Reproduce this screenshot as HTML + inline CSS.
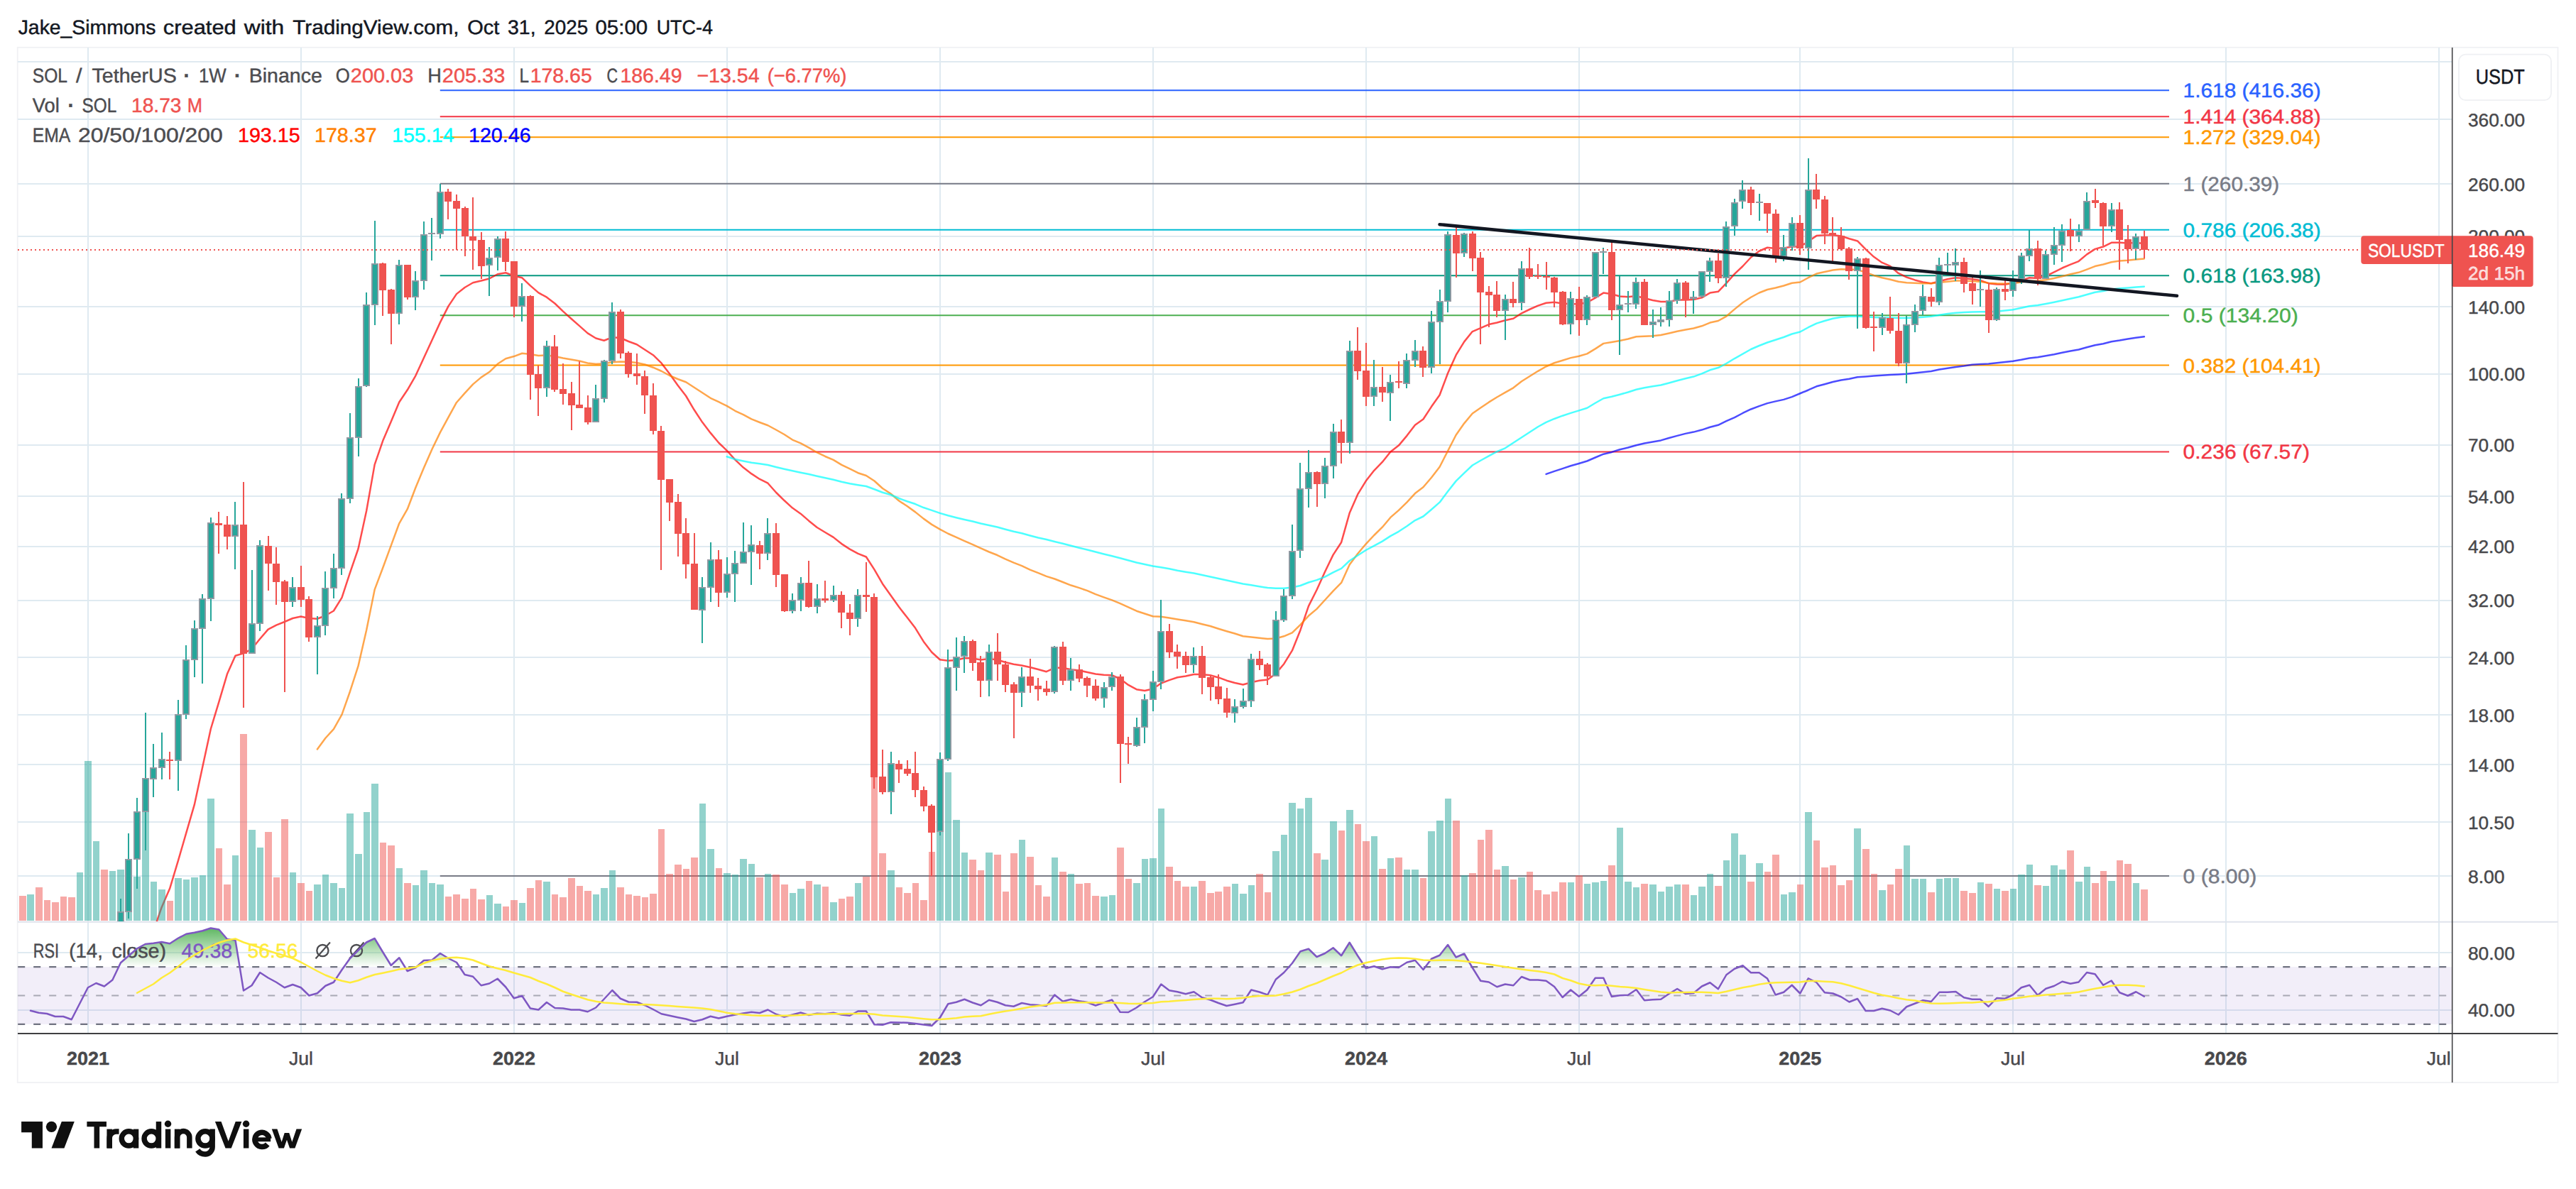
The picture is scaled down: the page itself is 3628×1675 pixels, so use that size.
<!DOCTYPE html><html><head><meta charset="utf-8"><title>chart</title><style>html,body{margin:0;padding:0;background:#fff}svg{display:block}</style></head><body><svg width="3628" height="1675" viewBox="0 0 3628 1675" font-family="Liberation Sans, sans-serif" text-rendering="geometricPrecision"><rect width="3628" height="1675" fill="#fff"/><rect x="24.7" y="66.8" width="3577.8" height="1458.2" fill="#fff" stroke="#f0f1f4" stroke-width="1.8"/><path d="M124 67V1455.5M424 67V1455.5M724 67V1455.5M1024 67V1455.5M1324 67V1455.5M1624 67V1455.5M1924 67V1455.5M2224 67V1455.5M2535 67V1455.5M2835 67V1455.5M3135 67V1455.5M3435 67V1455.5M25 87H3453M25 168H3453M25 259H3453M25 333H3453M25 432H3453M25 527H3453M25 627H3453M25 699H3453M25 770H3453M25 846H3453M25 926H3453M25 1007H3453M25 1077H3453M25 1158H3453M25 1234H3453M25 1342H3453M25 1423H3453" stroke="#dfeaf1" stroke-width="2" fill="none"/><path d="M25 1298.8H3602.5" stroke="#dfe3ec" stroke-width="2"/><rect x="25" y="1362.1" width="3428" height="80.8" fill="#7e57c2" fill-opacity="0.1"/><defs><clipPath id="cm"><rect x="25" y="67" width="3428" height="1231"/></clipPath><clipPath id="cr"><rect x="25" y="1299.5" width="3428" height="156.0"/></clipPath><linearGradient id="gg" gradientUnits="userSpaceOnUse" x1="0" y1="1301" x2="0" y2="1362.4"><stop offset="0" stop-color="#4caf50" stop-opacity="1"/><stop offset="1" stop-color="#4caf50" stop-opacity="0"/></linearGradient></defs><g clip-path="url(#cm)"><path d="M619.8 127.26H3055" stroke="#2962ff" stroke-width="2"/><path d="M619.8 164.22H3055" stroke="#f23645" stroke-width="2"/><path d="M619.8 193.17H3055" stroke="#ff9800" stroke-width="2"/><path d="M619.8 258.7H3055" stroke="#787b86" stroke-width="2"/><path d="M619.8 323.8H3055" stroke="#00bcd4" stroke-width="2"/><path d="M619.8 388.2H3055" stroke="#089981" stroke-width="2"/><path d="M619.8 444.32H3055" stroke="#4caf50" stroke-width="2"/><path d="M619.8 514.61H3055" stroke="#ff9800" stroke-width="2"/><path d="M619.8 636.47H3055" stroke="#f23645" stroke-width="2"/><path d="M619.8 1233.97H3055" stroke="#787b86" stroke-width="2"/><path d="M221 1297.5L227.65 1278.19L239.18 1251.62L250.72 1213.18L262.26 1173.44L273.8 1133.7L285.34 1080.1L296.87 1026.75L308.41 988.59L319.95 949.53L331.49 923.78L343.03 920.37L354.56 914.3L366.1 899.98L377.64 886.62L389.18 880.54L400.72 876.01L412.25 871L423.79 868.54L435.33 871.01L446.87 871.74L458.41 867.29L469.94 860.53L481.48 841.84L493.02 806.56L504.56 773L516.1 719.73L527.63 654.6L539.17 621.1L550.71 594.09L562.25 566.5L573.79 549.32L585.32 529.31L596.86 504.3L608.4 479.22L619.94 454.13L631.48 431.4L643.01 414.12L654.55 404.97L666.09 398.23L677.63 395.53L689.17 392.52L700.7 386.27L712.24 384.25L723.78 388.67L735.32 391.32L746.86 402.36L758.39 412.41L769.93 418.71L781.47 427.48L793.01 438.63L804.55 449.04L816.08 459.08L827.62 469.39L839.16 476.45L850.7 479.74L862.24 475.26L873.77 475.99L885.31 481.02L896.85 485.2L908.39 492.68L919.93 500.2L931.46 511.46L943 526.5L954.54 542.8L966.08 557.76L977.62 577.27L989.15 594.85L1000.69 609.92L1012.23 623.73L1023.77 634.78L1035.31 647.55L1046.84 658.6L1058.38 667.41L1069.92 674.95L1081.46 680.73L1093 693.75L1104.53 705.03L1116.07 715.55L1127.61 723.65L1139.15 733.66L1150.69 742.95L1162.22 749.98L1173.76 756.86L1185.3 766.09L1196.84 773.64L1208.38 779.93L1219.91 784.47L1231.45 802.42L1242.99 822.48L1254.53 838.77L1266.07 855.08L1277.6 869.81L1289.14 884.86L1300.68 903.64L1312.22 918.71L1323.76 929.28L1335.29 930.75L1346.83 930.01L1358.37 927.03L1369.91 927.5L1381.45 929.49L1392.98 928L1404.52 929.51L1416.06 932.94L1427.6 935.71L1439.14 937.48L1450.67 939.98L1462.21 942.99L1473.75 946.18L1485.29 940.85L1496.83 940.75L1508.36 943.22L1519.9 944.49L1531.44 946.99L1542.98 949.5L1554.52 950.75L1566.05 951.27L1577.59 956.32L1589.13 964.91L1600.67 971.21L1612.21 972.99L1623.74 970.5L1635.28 962.49L1646.82 958.07L1658.36 954.3L1669.9 952.52L1681.43 950.01L1692.97 950L1704.51 951.25L1716.05 954.44L1727.59 958.69L1739.12 961.96L1750.66 964.48L1762.2 961.26L1773.74 958.75L1785.28 957.48L1796.81 948.89L1808.35 935.18L1819.89 916.43L1831.43 887.68L1842.97 853.85L1854.5 830.98L1866.04 805.46L1877.58 781.6L1889.12 763.95L1900.66 722.84L1912.19 696.38L1923.73 677.53L1935.27 662.79L1946.81 650.95L1958.35 636.44L1969.88 627.59L1981.42 613.84L1992.96 598.8L2004.5 590.5L2016.04 572.83L2027.57 556.5L2039.11 525.8L2050.65 500.21L2062.19 481.35L2073.73 467.03L2085.26 462.1L2096.8 457.09L2108.34 454.53L2119.88 451.28L2131.42 448.77L2142.95 441.28L2154.49 435.75L2166.03 430.6L2177.57 426.81L2189.11 425.76L2200.64 427.48L2212.18 428.25L2223.72 428.25L2235.26 426.29L2246.8 419.62L2258.33 412.6L2269.87 414.23L2281.41 417.47L2292.95 418.25L2304.49 417L2316.02 419.94L2327.56 422.95L2339.1 424.97L2350.64 425L2362.18 422.52L2373.71 422.5L2385.25 422.01L2396.79 419.3L2408.33 412.6L2419.87 410.77L2431.4 398.85L2442.94 385.89L2454.48 375.02L2466.02 362.49L2477.56 353.73L2489.09 348.76L2500.63 349.99L2512.17 349.5L2523.71 347.51L2535.25 347.5L2546.78 339.98L2558.32 332.12L2569.86 331.26L2581.4 331.25L2592.94 332.49L2604.47 336.24L2616.01 339.43L2627.55 351.05L2639.09 361.85L2650.63 369.91L2662.16 374.96L2673.7 384.96L2685.24 390.5L2696.78 394.42L2708.32 397.45L2719.85 399.23L2731.39 396.28L2742.93 393.27L2754.47 391.26L2766.01 391.98L2777.54 393.23L2789.08 394.97L2800.62 399.2L2812.16 400.49L2823.7 400.75L2835.23 398.75L2846.77 395.07L2858.31 391.31L2869.85 391.99L2881.39 388.78L2892.92 383.29L2904.46 377.52L2916 372.61L2927.54 368.08L2939.08 358.4L2950.61 350.84L2962.15 347.53L2973.69 341.78L2985.23 341.75L2996.77 342.48L3008.3 342.01L3019.84 342.99" fill="none" stroke="#ff0000" stroke-opacity="0.7" stroke-width="2.5" stroke-linejoin="round" stroke-linecap="round" /><path d="M446.87 1055.5L458.41 1039.78L469.94 1027.09L481.48 1006.62L493.02 973.99L504.56 938.15L516.1 887.8L527.63 830.64L539.17 799.96L550.71 768.61L562.25 737.26L573.79 717.22L585.32 686.94L596.86 659.33L608.4 632.98L619.94 609.13L631.48 587.79L643.01 566.98L654.55 553.94L666.09 541.42L677.63 531.6L689.17 524.05L700.7 512.79L712.24 505.26L723.78 502.06L735.32 497.76L746.86 498.98L758.39 500.98L769.93 500.5L781.47 502L793.01 504.5L804.55 506.51L816.08 508.52L827.62 511.47L839.16 512.74L850.7 512.25L862.24 510.25L873.77 509.51L885.31 509.76L896.85 510.98L908.39 513.48L919.93 517.72L931.46 522.73L943 529L954.54 534.01L966.08 538.29L1000.69 560.8L1012.23 566.24L1023.77 571.89L1035.31 578.78L1046.84 584.18L1058.38 590.44L1069.92 594.97L1081.46 599.23L1093 605.5L1104.53 612.02L1116.07 619.53L1127.61 624.44L1139.15 630.69L1150.69 637.46L1162.22 642.99L1173.76 647.9L1185.3 654.88L1196.84 660.42L1208.38 666.19L1219.91 669.97L1231.45 677.47L1242.99 687.99L1254.53 695.52L1266.07 705.54L1277.6 713.07L1289.14 721.36L1300.68 730.63L1312.22 738.88L1323.76 745.61L1335.29 751.77L1346.83 756.79L1358.37 762.05L1369.91 767.07L1381.45 772.47L1392.98 777.49L1404.52 782.01L1416.06 787.53L1427.6 792.54L1439.14 797.07L1450.67 802.57L1462.21 807.09L1473.75 811.83L1485.29 815.51L1496.83 820.03L1508.36 824.54L1519.9 828.15L1531.44 832.16L1542.98 837.16L1554.52 841.35L1566.05 845.37L1577.59 850.13L1589.13 855.44L1600.67 860.71L1612.21 864.49L1623.74 868.25L1635.28 868.75L1646.82 870.47L1658.36 872.48L1669.9 874.23L1681.43 876.24L1692.97 879.24L1704.51 882L1716.05 885.69L1727.59 889.2L1739.12 892.46L1750.66 896.22L1762.2 897.49L1773.74 898.75L1785.28 900L1796.81 899.51L1808.35 896.29L1819.89 891.3L1831.43 880.07L1842.97 867.54L1854.5 857.91L1866.04 845.23L1877.58 832.68L1889.12 820.9L1900.66 795.56L1912.19 780.07L1923.73 766.27L1935.27 753.99L1946.81 742.69L1958.35 728.93L1969.88 718.85L1981.42 707.58L1992.96 695.04L2004.5 686.25L2016.04 672.75L2027.57 657.73L2039.11 635.27L2050.65 612.7L2062.19 596.34L2073.73 582.52L2085.26 574.46L2096.8 566.68L2108.34 559.53L2119.88 552.94L2131.42 546.3L2142.95 537.29L2154.49 530.01L2166.03 522.81L2177.57 516.28L2189.11 511.26L2200.64 507.74L2212.18 504.12L2223.72 501.81L2235.26 498.33L2246.8 491.37L2258.33 483.86L2269.87 482.02L2281.41 480.02L2292.95 477.51L2304.49 474.25L2316.02 473.76L2327.56 473.26L2339.1 472.02L2350.64 469.52L2362.18 466.77L2373.71 464.51L2385.25 462.54L2396.79 459.31L2408.33 454.57L2419.87 452.03L2431.4 445.55L2442.94 435.63L2454.48 426.26L2466.02 418.74L2477.56 412.48L2489.09 407.98L2500.63 405.53L2512.17 402.52L2523.71 398.76L2535.25 397.5L2546.78 391.23L2558.32 385.59L2569.86 383.03L2581.4 380.52L2592.94 379.26L2604.47 379.5L2616.01 379.99L2627.55 383.68L2639.09 387.94L2650.63 391.21L2662.16 393.73L2673.7 396.74L2685.24 398.25L2696.78 398.74L2708.32 399.24L2719.85 399.25L2731.39 398.01L2742.93 396.76L2754.47 395.5L2766.01 395.5L2777.54 396.24L2789.08 396.74L2800.62 398.73L2812.16 399.25L2823.7 399.5L2835.23 399.25L2846.77 397.53L2858.31 395.78L2869.85 395.5L2881.39 394.26L2892.92 392.01L2904.46 389.26L2916 386.31L2927.54 383.8L2939.08 379.56L2950.61 375.05L2962.15 372.52L2973.69 369.27L2985.23 367.54L2996.77 366.77L3008.3 365.52L3019.84 364.51" fill="none" stroke="#ff8000" stroke-opacity="0.7" stroke-width="2.5" stroke-linejoin="round" stroke-linecap="round" /><path d="M1023.77 643.25L1035.31 647.01L1046.84 649.47L1058.38 651.73L1069.92 653.24L1081.46 654.99L1093 658L1104.53 660.76L1116.07 663.27L1127.61 665.72L1139.15 667.98L1150.69 670.73L1162.22 673.24L1173.76 675.7L1185.3 678.7L1196.84 681.21L1208.38 683.23L1219.91 684.99L1231.45 689.23L1242.99 693.75L1254.53 697.01L1266.07 702.02L1277.6 706.28L1289.14 710.06L1300.68 715.06L1312.22 718.83L1323.76 722.91L1335.29 726.26L1346.83 729.27L1358.37 732.03L1369.91 734.54L1381.45 737.49L1392.98 740L1404.52 742.51L1416.06 745.77L1427.6 748.77L1439.14 751.29L1450.67 754.55L1462.21 757.55L1473.75 760.06L1485.29 763.01L1496.83 765.77L1508.36 768.78L1519.9 771.79L1531.44 774.55L1542.98 777.56L1554.52 780.56L1566.05 783.33L1577.59 786.33L1600.67 792.48L1612.21 794.99L1623.74 797.5L1635.28 799.26L1646.82 801.22L1658.36 803.72L1669.9 805.73L1681.43 807.49L1692.97 809.99L1704.51 812.5L1716.05 814.96L1727.59 817.46L1739.12 819.97L1750.66 822.48L1762.2 824.24L1773.74 826.25L1785.28 828L1796.81 828.74L1808.35 828.75L1819.89 827.51L1831.43 825.02L1842.97 820.51L1854.5 817.14L1866.04 812.58L1877.58 806.34L1889.12 800.91L1900.66 790L1912.19 782.54L1923.73 775.01L1935.27 768.87L1946.81 762.6L1958.35 755.1L1969.88 748.81L1981.42 741.3L1992.96 733.03L2004.5 727.5L2016.04 717.68L2027.57 707.65L2039.11 692.19L2050.65 677.63L2062.19 666.31L2073.73 655.52L2085.26 648.74L2096.8 642.47L2108.34 636.21L2119.88 631.3L2131.42 623.8L2142.95 616.28L2154.49 608.76L2166.03 601.23L2177.57 594.97L2189.11 589.96L2200.64 585.69L2212.18 581.85L2223.72 578.35L2235.26 574.71L2246.8 567.73L2258.33 561.26L2269.87 558.78L2281.41 555.77L2292.95 552.51L2304.49 548.75L2316.02 546.3L2327.56 544.28L2339.1 542.52L2350.64 539.53L2362.18 536.27L2373.71 533.26L2385.25 530.56L2396.79 526.33L2408.33 521.32L2419.87 518.04L2431.4 512.05L2442.94 505.04L2466.02 491.99L2477.56 486.98L2489.09 482.47L2500.63 478.79L2512.17 475.03L2523.71 470.52L2535.25 467.5L2546.78 461.23L2558.32 455.59L2569.86 452.04L2581.4 448.78L2592.94 446.76L2604.47 445.75L2616.01 445.51L2627.55 446.24L2639.09 446.99L2650.63 447.49L2662.16 447.5L2673.7 448L2685.24 448L2696.78 447.51L2708.32 446.76L2719.85 445.76L2731.39 443.77L2742.93 442.01L2754.47 440.75L2766.01 440.02L2777.54 439.51L2789.08 439.25L2800.62 439.25L2812.16 438.75L2823.7 437.51L2835.23 436.25L2846.77 433.8L2858.31 431.29L2869.85 430.02L2881.39 428.02L2892.92 425.76L2904.46 423.26L2916 420.8L2927.54 418.3L2939.08 415.05L2950.61 411.79L2962.15 410.01L2973.69 407.51L2985.23 406.28L2996.77 405.52L3008.3 404.52L3019.84 403.76" fill="none" stroke="#00ffff" stroke-opacity="0.7" stroke-width="2.5" stroke-linejoin="round" stroke-linecap="round" /><path d="M2177.57 667.9L2189.11 663.87L2200.64 660.09L2212.18 656.31L2223.72 652.96L2235.26 649.48L2246.8 644.51L2258.33 639.69L2269.87 636.92L2281.41 633.29L2292.95 630.55L2304.49 627.23L2316.02 624.5L2327.56 622.51L2339.1 620.41L2350.64 616.93L2362.18 613.9L2373.71 610.87L2385.25 608.59L2396.79 605.58L2408.33 601.81L2419.87 598.77L2431.4 593.22L2442.94 588.13L2454.48 581.98L2466.02 576.48L2477.56 572.15L2489.09 568.14L2500.63 565.4L2512.17 562.89L2523.71 559.17L2535.25 554.25L2546.78 549.48L2558.32 544.33L2569.86 541.29L2581.4 538.03L2592.94 535.51L2604.47 533.75L2616.01 531.3L2627.55 530.51L2639.09 529.51L2650.63 528.76L2662.16 528.01L2673.7 527.5L2685.24 526.75L2696.78 525.52L2708.32 524.27L2719.85 523.02L2731.39 520.52L2742.93 518.76L2754.47 517L2766.01 515.53L2777.54 513.78L2789.08 513.01L2800.62 512.51L2812.16 511.26L2823.7 510.01L2835.23 508.75L2846.77 506.79L2858.31 504.54L2869.85 503.27L2881.39 501.27L2892.92 499.26L2904.46 496.76L2916 494.55L2927.54 492.54L2939.08 489.3L2950.61 486.29L2962.15 484.27L2973.69 481.27L2985.23 479.54L2996.77 477.54L3008.3 475.78L3019.84 474.27" fill="none" stroke="#0000ff" stroke-opacity="0.7" stroke-width="2.5" stroke-linejoin="round" stroke-linecap="round" /><path d="M38 1260H48V1297H38zM108 1229H117V1297H108zM119 1072H129V1297H119zM131 1185H140V1297H131zM154 1227H163V1297H154zM165 1225H175V1297H165zM177 1226H186V1297H177zM188 1235H198V1297H188zM200 1128H210V1297H200zM212 1242H221V1297H212zM223 1253H233V1297H223zM246 1237H256V1297H246zM258 1239H267V1297H258zM269 1236H279V1297H269zM281 1233H290V1297H281zM292 1125H302V1297H292zM327 1205H336V1297H327zM350 1169H360V1297H350zM362 1194H371V1297H362zM408 1229H417V1297H408zM442 1246H452V1297H442zM454 1232H463V1297H454zM465 1244H475V1297H465zM477 1251H486V1297H477zM488 1146H498V1297H488zM500 1203H510V1297H500zM512 1144H521V1297H512zM523 1104H533V1297H523zM558 1223H567V1297H558zM581 1247H590V1297H581zM592 1226H602V1297H592zM604 1244H613V1297H604zM615 1246H625V1297H615zM685 1261H694V1297H685zM696 1273H706V1297H696zM731 1272H740V1297H731zM765 1242H775V1297H765zM835 1260H844V1297H835zM846 1251H856V1297H846zM858 1226H867V1297H858zM985 1132H994V1297H985zM996 1196H1006V1297H996zM1019 1230H1029V1297H1019zM1031 1232H1040V1297H1031zM1042 1210H1052V1297H1042zM1054 1217H1063V1297H1054zM1077 1231H1086V1297H1077zM1112 1258H1121V1297H1112zM1123 1252H1133V1297H1123zM1146 1246H1156V1297H1146zM1169 1271H1179V1297H1169zM1204 1244H1213V1297H1204zM1250 1226H1260V1297H1250zM1319 1128H1329V1297H1319zM1331 1088H1340V1297H1331zM1342 1155H1352V1297H1342zM1354 1201H1363V1297H1354zM1388 1201H1398V1297H1388zM1435 1183H1444V1297H1435zM1481 1208H1490V1297H1481zM1504 1231H1513V1297H1504zM1550 1263H1560V1297H1550zM1562 1261H1571V1297H1562zM1596 1244H1606V1297H1596zM1608 1210H1617V1297H1608zM1619 1209H1629V1297H1619zM1631 1139H1640V1297H1631zM1677 1249H1686V1297H1677zM1735 1245H1744V1297H1735zM1746 1259H1756V1297H1746zM1758 1247H1767V1297H1758zM1792 1199H1802V1297H1792zM1804 1176H1813V1297H1804zM1815 1131H1825V1297H1815zM1827 1139H1836V1297H1827zM1838 1124H1848V1297H1838zM1861 1211H1871V1297H1861zM1873 1157H1883V1297H1873zM1896 1141H1906V1297H1896zM1931 1178H1940V1297H1931zM1954 1209H1963V1297H1954zM1977 1225H1986V1297H1977zM1988 1225H1998V1297H1988zM2011 1171H2021V1297H2011zM2023 1156H2033V1297H2023zM2035 1125H2044V1297H2035zM2058 1233H2067V1297H2058zM2115 1220H2125V1297H2115zM2138 1236H2148V1297H2138zM2208 1243H2217V1297H2208zM2231 1245H2240V1297H2231zM2242 1243H2252V1297H2242zM2254 1241H2263V1297H2254zM2277 1166H2286V1297H2277zM2288 1242H2298V1297H2288zM2300 1250H2309V1297H2300zM2323 1246H2333V1297H2323zM2335 1256H2344V1297H2335zM2346 1249H2356V1297H2346zM2358 1246H2367V1297H2358zM2381 1261H2390V1297H2381zM2392 1249H2402V1297H2392zM2404 1231H2413V1297H2404zM2427 1212H2436V1297H2427zM2438 1174H2448V1297H2438zM2450 1204H2459V1297H2450zM2473 1216H2483V1297H2473zM2508 1260H2517V1297H2508zM2519 1257H2529V1297H2519zM2542 1144H2552V1297H2542zM2611 1167H2621V1297H2611zM2646 1254H2656V1297H2646zM2681 1191H2690V1297H2681zM2692 1238H2702V1297H2692zM2704 1238H2713V1297H2704zM2727 1238H2736V1297H2727zM2738 1237H2748V1297H2738zM2750 1237H2759V1297H2750zM2785 1243H2794V1297H2785zM2808 1252H2817V1297H2808zM2831 1252H2840V1297H2831zM2842 1232H2852V1297H2842zM2854 1218H2863V1297H2854zM2877 1248H2886V1297H2877zM2888 1219H2898V1297H2888zM2900 1225H2909V1297H2900zM2923 1242H2933V1297H2923zM2935 1221H2944V1297H2935zM2969 1241H2979V1297H2969zM3004 1244H3013V1297H3004z" fill="#26a69a" fill-opacity="0.5"/><path d="M27 1262H37V1297H27zM50 1250H60V1297H50zM62 1268H71V1297H62zM73 1271H83V1297H73zM85 1263H94V1297H85zM96 1264H106V1297H96zM142 1225H152V1297H142zM235 1269H244V1297H235zM304 1195H313V1297H304zM315 1246H325V1297H315zM338 1034H348V1297H338zM373 1172H383V1297H373zM385 1236H394V1297H385zM396 1154H406V1297H396zM419 1244H429V1297H419zM431 1255H440V1297H431zM535 1187H544V1297H535zM546 1191H556V1297H546zM569 1244H579V1297H569zM627 1263H636V1297H627zM638 1260H648V1297H638zM650 1266H660V1297H650zM662 1252H671V1297H662zM673 1267H683V1297H673zM708 1277H717V1297H708zM719 1268H729V1297H719zM742 1251H752V1297H742zM754 1240H763V1297H754zM777 1260H786V1297H777zM788 1264H798V1297H788zM800 1237H810V1297H800zM812 1248H821V1297H812zM823 1255H833V1297H823zM869 1250H879V1297H869zM881 1260H890V1297H881zM892 1262H902V1297H892zM904 1264H913V1297H904zM915 1259H925V1297H915zM927 1168H936V1297H927zM938 1231H948V1297H938zM950 1218H960V1297H950zM962 1224H971V1297H962zM973 1208H983V1297H973zM1008 1223H1017V1297H1008zM1065 1236H1075V1297H1065zM1088 1232H1098V1297H1088zM1100 1246H1110V1297H1100zM1135 1241H1144V1297H1135zM1158 1249H1167V1297H1158zM1181 1266H1190V1297H1181zM1192 1263H1202V1297H1192zM1215 1235H1225V1297H1215zM1227 1000H1236V1297H1227zM1238 1202H1248V1297H1238zM1262 1250H1271V1297H1262zM1273 1258H1283V1297H1273zM1285 1244H1294V1297H1285zM1296 1268H1306V1297H1296zM1308 1200H1317V1297H1308zM1365 1211H1375V1297H1365zM1377 1226H1386V1297H1377zM1400 1204H1410V1297H1400zM1412 1256H1421V1297H1412zM1423 1202H1433V1297H1423zM1446 1207H1456V1297H1446zM1458 1247H1467V1297H1458zM1469 1263H1479V1297H1469zM1492 1228H1502V1297H1492zM1515 1245H1525V1297H1515zM1527 1244H1536V1297H1527zM1538 1262H1548V1297H1538zM1573 1194H1583V1297H1573zM1585 1238H1594V1297H1585zM1642 1221H1652V1297H1642zM1654 1241H1663V1297H1654zM1665 1249H1675V1297H1665zM1688 1241H1698V1297H1688zM1700 1258H1710V1297H1700zM1711 1256H1721V1297H1711zM1723 1249H1733V1297H1723zM1769 1231H1779V1297H1769zM1781 1257H1790V1297H1781zM1850 1202H1860V1297H1850zM1885 1170H1894V1297H1885zM1908 1161H1917V1297H1908zM1919 1185H1929V1297H1919zM1942 1224H1952V1297H1942zM1965 1208H1975V1297H1965zM2000 1237H2009V1297H2000zM2046 1156H2056V1297H2046zM2069 1230H2079V1297H2069zM2081 1183H2090V1297H2081zM2092 1169H2102V1297H2092zM2104 1225H2113V1297H2104zM2127 1239H2136V1297H2127zM2150 1228H2159V1297H2150zM2161 1254H2171V1297H2161zM2173 1260H2183V1297H2173zM2185 1256H2194V1297H2185zM2196 1243H2206V1297H2196zM2219 1233H2229V1297H2219zM2265 1219H2275V1297H2265zM2311 1245H2321V1297H2311zM2369 1246H2379V1297H2369zM2415 1248H2425V1297H2415zM2461 1242H2471V1297H2461zM2485 1228H2494V1297H2485zM2496 1204H2506V1297H2496zM2531 1246H2540V1297H2531zM2554 1184H2563V1297H2554zM2565 1222H2575V1297H2565zM2577 1219H2586V1297H2577zM2588 1247H2598V1297H2588zM2600 1240H2609V1297H2600zM2623 1196H2633V1297H2623zM2635 1231H2644V1297H2635zM2658 1246H2667V1297H2658zM2669 1224H2679V1297H2669zM2715 1257H2725V1297H2715zM2761 1255H2771V1297H2761zM2773 1258H2783V1297H2773zM2796 1245H2806V1297H2796zM2819 1255H2829V1297H2819zM2865 1247H2875V1297H2865zM2911 1198H2921V1297H2911zM2946 1244H2956V1297H2946zM2958 1227H2967V1297H2958zM2981 1212H2990V1297H2981zM2992 1217H3002V1297H2992zM3015 1253H3025V1297H3015z" fill="#ef5350" fill-opacity="0.5"/><path d="M170 1266V1320M181 1174V1294M193 1124V1252M205 1004V1198M216 1048V1123M228 1032V1098M251 986V1114M262 909V1013M274 874V954M285 837V963M297 729V875M331 707V802M355 803V920M366 761V889M412 813V855M447 868V950M458 805V895M470 780V843M481 695V810M493 582V709M505 533V643M516 412V545M528 311V458M562 366V457M585 382V437M597 312V408M608 307V367M620 259V336M689 348V417M701 333V381M735 399V453M770 480V559M839 542V595M851 507V567M862 426V513M989 813V906M1001 764V848M1024 785V842M1035 776V848M1047 736V794M1058 740V824M1081 730V789M1116 836V864M1128 813V861M1151 823V864M1174 825V848M1208 830V883M1255 1059V1147M1324 1060V1177M1335 915V1072M1347 898V973M1358 896V948M1393 908V981M1439 940V996M1485 910V977M1508 927V973M1555 961V997M1566 947V973M1601 1011V1052M1612 978V1047M1624 945V1002M1635 845V971M1681 912V948M1739 985V1018M1751 970V998M1762 921V996M1797 861V953M1808 830V876M1820 739V844M1831 652V786M1843 634V715M1866 645V702M1878 597V674M1901 480V639M1935 507V572M1958 528V593M1981 498V547M1993 479V517M2016 438V526M2028 408V513M2039 326V440M2062 328V362M2120 415V479M2143 368V437M2212 411V471M2235 416V458M2247 355V419M2258 349V386M2281 389V500M2293 410V440M2304 391V435M2328 436V476M2339 433V460M2351 410V460M2362 393V428M2385 410V442M2397 383V419M2408 363V397M2431 312V404M2443 280V332M2454 254V294M2478 273V311M2512 331V368M2524 306V353M2547 223V380M2616 362V463M2651 441V472M2685 445V540M2697 429V468M2708 401V444M2731 363V430M2743 356V388M2754 350V396M2789 381V432M2812 405V452M2835 381V418M2847 356V400M2858 324V368M2881 353V392M2893 320V373M2904 316V369M2928 316V341M2939 271V324M2974 286V327M3008 329V366" stroke="#26a69a" stroke-width="2" fill="none"/><path d="M239 1059V1098M308 721V780M320 727V774M343 679V997M378 755V832M389 771V852M401 817V975M424 797V855M435 840V904M539 370V445M551 407V485M574 373V422M631 266V309M643 274V352M655 291V361M666 278V380M678 327V393M712 326V382M724 368V447M747 416V563M758 515V586M781 472V552M793 512V570M805 538V606M816 509V575M828 557V598M874 436V505M885 495V532M897 498V542M908 522V583M920 540V612M931 600V803M943 675V734M955 696V784M966 730V815M978 751V859M1012 775V855M1070 762V802M1093 737V827M1105 809V862M1139 790V856M1162 818V849M1185 833V885M1197 851V895M1220 792V862M1231 836V1111M1243 1056V1119M1266 1071V1103M1278 1071V1093M1289 1059V1123M1301 1108V1143M1312 1133V1234M1370 901V945M1381 924V982M1405 892V959M1416 931V975M1428 961V1040M1451 928V976M1462 955V987M1474 959V980M1497 904V965M1520 936V961M1531 953V982M1543 957V987M1578 950V1103M1589 1038V1076M1647 879V927M1658 908V942M1670 918V948M1693 910V978M1705 952V987M1716 950V992M1728 969V1011M1774 917V944M1785 934V965M1855 664V714M1889 591V653M1912 461V535M1924 483V572M1947 517V566M1970 509V547M2004 488V531M2051 320V391M2074 326V382M2085 355V485M2097 403V461M2108 396V447M2131 397V433M2154 349V393M2166 372V393M2178 369V408M2189 390V433M2201 410V458M2224 404V473M2270 341V451M2316 393V458M2374 396V447M2420 357V399M2466 263V303M2489 286V328M2501 295V370M2535 303V359M2558 245V294M2570 276V344M2581 306V369M2593 320V353M2604 348V394M2628 363V463M2639 439V495M2662 418V470M2674 441V516M2720 406V432M2766 363V412M2778 390V429M2801 398V469M2824 395V423M2870 339V402M2916 308V354M2951 266V293M2962 285V346M2985 285V380M2997 317V371M3020 325V364" stroke="#ef5350" stroke-width="2" fill="none"/><path d="M165 1284h10V1313h-10zM176 1210h10V1285h-10zM188 1143h10V1211h-10zM200 1096h10V1144h-10zM211 1081h10V1098h-10zM223 1069h10V1082h-10zM246 1006h10V1072h-10zM257 929h10V1007h-10zM269 885h10V930h-10zM280 843h10V886h-10zM292 736h10V844h-10zM326 739h10V756h-10zM350 878h10V921h-10zM361 768h10V879h-10zM407 827h10V848h-10zM442 881h10V898h-10zM453 828h10V882h-10zM465 800h10V829h-10zM476 702h10V801h-10zM488 616h10V703h-10zM500 544h10V617h-10zM511 429h10V544h-10zM523 371h10V430h-10zM557 373h10V442h-10zM580 395h10V419h-10zM592 330h10V396h-10zM603 328h10V330h-10zM615 270h10V330h-10zM684 363h10V374h-10zM696 336h10V363h-10zM730 417h10V432h-10zM765 487h10V547h-10zM834 561h10V595h-10zM846 508h10V562h-10zM857 439h10V509h-10zM984 827h10V860h-10zM996 788h10V828h-10zM1019 808h10V835h-10zM1030 793h10V809h-10zM1042 777h10V794h-10zM1053 767h10V778h-10zM1076 751h10V780h-10zM1111 845h10V861h-10zM1123 821h10V846h-10zM1146 843h10V855h-10zM1169 838h10V846h-10zM1203 838h10V872h-10zM1250 1075h10V1116h-10zM1319 1069h10V1172h-10zM1330 940h10V1070h-10zM1342 925h10V941h-10zM1353 903h10V925h-10zM1388 918h10V959h-10zM1434 953h10V976h-10zM1480 911h10V975h-10zM1503 943h10V959h-10zM1550 968h10V984h-10zM1561 953h10V968h-10zM1596 1024h10V1051h-10zM1607 985h10V1025h-10zM1619 960h10V986h-10zM1630 889h10V961h-10zM1676 924h10V937h-10zM1734 995h10V1005h-10zM1746 987h10V996h-10zM1757 928h10V988h-10zM1792 873h10V953h-10zM1803 839h10V874h-10zM1815 776h10V840h-10zM1826 688h10V776h-10zM1838 665h10V689h-10zM1861 656h10V682h-10zM1873 608h10V657h-10zM1896 494h10V624h-10zM1930 545h10V559h-10zM1953 538h10V554h-10zM1976 507h10V541h-10zM1988 494h10V508h-10zM2011 453h10V518h-10zM2023 424h10V454h-10zM2034 330h10V425h-10zM2057 329h10V357h-10zM2115 421h10V438h-10zM2138 378h10V427h-10zM2207 420h10V457h-10zM2230 418h10V451h-10zM2242 355h10V419h-10zM2253 354h10V356h-10zM2276 429h10V437h-10zM2288 427h10V429h-10zM2299 397h10V429h-10zM2323 453h10V458h-10zM2334 450h10V454h-10zM2346 423h10V451h-10zM2357 398h10V424h-10zM2380 418h10V421h-10zM2392 382h10V418h-10zM2403 367h10V383h-10zM2426 319h10V392h-10zM2438 285h10V319h-10zM2449 267h10V284h-10zM2473 284h10V286h-10zM2507 348h10V362h-10zM2519 314h10V348h-10zM2542 267h10V350h-10zM2611 364h10V382h-10zM2646 447h10V462h-10zM2680 457h10V512h-10zM2692 438h10V458h-10zM2703 417h10V438h-10zM2726 373h10V426h-10zM2738 372h10V374h-10zM2749 369h10V374h-10zM2784 407h10V409h-10zM2807 407h10V451h-10zM2830 393h10V410h-10zM2842 360h10V394h-10zM2853 350h10V361h-10zM2876 358h10V393h-10zM2888 345h10V359h-10zM2899 325h10V346h-10zM2923 325h10V333h-10zM2934 283h10V324h-10zM2969 295h10V319h-10zM3003 333h10V351h-10z" fill="#9698a2"/><path d="M166.8 1285.8h6.4V1311.2h-6.4zM177.8 1211.8h6.4V1283.2h-6.4zM189.8 1144.8h6.4V1209.2h-6.4zM201.8 1097.8h6.4V1142.2h-6.4zM212.8 1082.8h6.4V1096.2h-6.4zM224.8 1070.8h6.4V1080.2h-6.4zM247.8 1007.8h6.4V1070.2h-6.4zM258.8 930.8h6.4V1005.2h-6.4zM270.8 886.8h6.4V928.2h-6.4zM281.8 844.8h6.4V884.2h-6.4zM293.8 737.8h6.4V842.2h-6.4zM327.8 740.8h6.4V754.2h-6.4zM351.8 879.8h6.4V919.2h-6.4zM362.8 769.8h6.4V877.2h-6.4zM408.8 828.8h6.4V846.2h-6.4zM443.8 882.8h6.4V896.2h-6.4zM454.8 829.8h6.4V880.2h-6.4zM466.8 801.8h6.4V827.2h-6.4zM477.8 703.8h6.4V799.2h-6.4zM489.8 617.8h6.4V701.2h-6.4zM501.8 545.8h6.4V615.2h-6.4zM512.8 430.8h6.4V542.2h-6.4zM524.8 372.8h6.4V428.2h-6.4zM558.8 374.8h6.4V440.2h-6.4zM581.8 396.8h6.4V417.2h-6.4zM593.8 331.8h6.4V394.2h-6.4zM616.8 271.8h6.4V328.2h-6.4zM685.8 364.8h6.4V372.2h-6.4zM697.8 337.8h6.4V361.2h-6.4zM731.8 418.8h6.4V430.2h-6.4zM766.8 488.8h6.4V545.2h-6.4zM835.8 562.8h6.4V593.2h-6.4zM847.8 509.8h6.4V560.2h-6.4zM858.8 440.8h6.4V507.2h-6.4zM985.8 828.8h6.4V858.2h-6.4zM997.8 789.8h6.4V826.2h-6.4zM1020.8 809.8h6.4V833.2h-6.4zM1031.8 794.8h6.4V807.2h-6.4zM1043.8 778.8h6.4V792.2h-6.4zM1054.8 768.8h6.4V776.2h-6.4zM1077.8 752.8h6.4V778.2h-6.4zM1112.8 846.8h6.4V859.2h-6.4zM1124.8 822.8h6.4V844.2h-6.4zM1147.8 844.8h6.4V853.2h-6.4zM1170.8 839.8h6.4V844.2h-6.4zM1204.8 839.8h6.4V870.2h-6.4zM1251.8 1076.8h6.4V1114.2h-6.4zM1320.8 1070.8h6.4V1170.2h-6.4zM1331.8 941.8h6.4V1068.2h-6.4zM1343.8 926.8h6.4V939.2h-6.4zM1354.8 904.8h6.4V923.2h-6.4zM1389.8 919.8h6.4V957.2h-6.4zM1435.8 954.8h6.4V974.2h-6.4zM1481.8 912.8h6.4V973.2h-6.4zM1504.8 944.8h6.4V957.2h-6.4zM1551.8 969.8h6.4V982.2h-6.4zM1562.8 954.8h6.4V966.2h-6.4zM1597.8 1025.8h6.4V1049.2h-6.4zM1608.8 986.8h6.4V1023.2h-6.4zM1620.8 961.8h6.4V984.2h-6.4zM1631.8 890.8h6.4V959.2h-6.4zM1677.8 925.8h6.4V935.2h-6.4zM1735.8 996.8h6.4V1003.2h-6.4zM1747.8 988.8h6.4V994.2h-6.4zM1758.8 929.8h6.4V986.2h-6.4zM1793.8 874.8h6.4V951.2h-6.4zM1804.8 840.8h6.4V872.2h-6.4zM1816.8 777.8h6.4V838.2h-6.4zM1827.8 689.8h6.4V774.2h-6.4zM1839.8 666.8h6.4V687.2h-6.4zM1862.8 657.8h6.4V680.2h-6.4zM1874.8 609.8h6.4V655.2h-6.4zM1897.8 495.8h6.4V622.2h-6.4zM1931.8 546.8h6.4V557.2h-6.4zM1954.8 539.8h6.4V552.2h-6.4zM1977.8 508.8h6.4V539.2h-6.4zM1989.8 495.8h6.4V506.2h-6.4zM2012.8 454.8h6.4V516.2h-6.4zM2024.8 425.8h6.4V452.2h-6.4zM2035.8 331.8h6.4V423.2h-6.4zM2058.8 330.8h6.4V355.2h-6.4zM2116.8 422.8h6.4V436.2h-6.4zM2139.8 379.8h6.4V425.2h-6.4zM2208.8 421.8h6.4V455.2h-6.4zM2231.8 419.8h6.4V449.2h-6.4zM2243.8 356.8h6.4V417.2h-6.4zM2277.8 430.8h6.4V435.2h-6.4zM2300.8 398.8h6.4V427.2h-6.4zM2324.8 454.8h6.4V456.2h-6.4zM2335.8 451.8h6.4V452.2h-6.4zM2347.8 424.8h6.4V449.2h-6.4zM2358.8 399.8h6.4V422.2h-6.4zM2393.8 383.8h6.4V416.2h-6.4zM2404.8 368.8h6.4V381.2h-6.4zM2427.8 320.8h6.4V390.2h-6.4zM2439.8 286.8h6.4V317.2h-6.4zM2450.8 268.8h6.4V282.2h-6.4zM2508.8 349.8h6.4V360.2h-6.4zM2520.8 315.8h6.4V346.2h-6.4zM2543.8 268.8h6.4V348.2h-6.4zM2612.8 365.8h6.4V380.2h-6.4zM2647.8 448.8h6.4V460.2h-6.4zM2681.8 458.8h6.4V510.2h-6.4zM2693.8 439.8h6.4V456.2h-6.4zM2704.8 418.8h6.4V436.2h-6.4zM2727.8 374.8h6.4V424.2h-6.4zM2750.8 370.8h6.4V372.2h-6.4zM2808.8 408.8h6.4V449.2h-6.4zM2831.8 394.8h6.4V408.2h-6.4zM2843.8 361.8h6.4V392.2h-6.4zM2854.8 351.8h6.4V359.2h-6.4zM2877.8 359.8h6.4V391.2h-6.4zM2889.8 346.8h6.4V357.2h-6.4zM2900.8 326.8h6.4V344.2h-6.4zM2924.8 326.8h6.4V331.2h-6.4zM2935.8 284.8h6.4V322.2h-6.4zM2970.8 296.8h6.4V317.2h-6.4zM3004.8 334.8h6.4V349.2h-6.4z" fill="#26a69a"/><path d="M234 1070h10V1072h-10zM303 737h10V740h-10zM315 739h10V756h-10zM338 739h10V921h-10zM373 769h10V794h-10zM384 794h10V820h-10zM396 819h10V848h-10zM419 827h10V845h-10zM430 844h10V898h-10zM534 371h10V409h-10zM546 408h10V442h-10zM569 373h10V419h-10zM626 270h10V284h-10zM638 283h10V294h-10zM650 293h10V333h-10zM661 333h10V339h-10zM673 338h10V375h-10zM707 336h10V369h-10zM719 368h10V432h-10zM742 417h10V528h-10zM753 527h10V547h-10zM776 488h10V549h-10zM788 548h10V555h-10zM800 554h10V571h-10zM811 570h10V575h-10zM823 574h10V595h-10zM869 439h10V498h-10zM880 497h10V527h-10zM892 526h10V530h-10zM903 530h10V557h-10zM915 557h10V607h-10zM926 607h10V676h-10zM938 675h10V708h-10zM950 707h10V752h-10zM961 751h10V795h-10zM973 794h10V859h-10zM1007 788h10V835h-10zM1065 768h10V780h-10zM1088 751h10V810h-10zM1100 809h10V861h-10zM1134 821h10V855h-10zM1157 843h10V846h-10zM1180 838h10V863h-10zM1192 863h10V872h-10zM1215 838h10V841h-10zM1226 841h10V1095h-10zM1238 1094h10V1116h-10zM1261 1076h10V1084h-10zM1273 1083h10V1090h-10zM1284 1089h10V1113h-10zM1296 1113h10V1136h-10zM1307 1135h10V1173h-10zM1365 903h10V934h-10zM1376 933h10V959h-10zM1400 918h10V936h-10zM1411 936h10V965h-10zM1423 964h10V976h-10zM1446 953h10V966h-10zM1457 966h10V971h-10zM1469 970h10V975h-10zM1492 911h10V959h-10zM1515 943h10V956h-10zM1526 955h10V966h-10zM1538 966h10V984h-10zM1573 953h10V1048h-10zM1584 1047h10V1049h-10zM1642 889h10V919h-10zM1653 918h10V925h-10zM1665 924h10V937h-10zM1688 924h10V955h-10zM1700 954h10V968h-10zM1711 967h10V985h-10zM1723 984h10V1004h-10zM1769 928h10V937h-10zM1780 936h10V953h-10zM1850 665h10V682h-10zM1884 608h10V624h-10zM1907 494h10V523h-10zM1919 522h10V559h-10zM1942 545h10V553h-10zM1965 537h10V539h-10zM1999 494h10V518h-10zM2046 331h10V357h-10zM2069 329h10V364h-10zM2080 363h10V412h-10zM2092 411h10V416h-10zM2103 415h10V438h-10zM2126 421h10V427h-10zM2149 378h10V390h-10zM2161 388h10V390h-10zM2173 389h10V391h-10zM2184 391h10V412h-10zM2196 411h10V457h-10zM2219 421h10V451h-10zM2265 355h10V437h-10zM2311 397h10V458h-10zM2369 398h10V422h-10zM2415 367h10V392h-10zM2461 267h10V286h-10zM2484 286h10V301h-10zM2496 301h10V362h-10zM2530 314h10V350h-10zM2553 267h10V281h-10zM2565 281h10V329h-10zM2576 328h10V332h-10zM2588 332h10V351h-10zM2599 350h10V382h-10zM2623 364h10V462h-10zM2634 460h10V462h-10zM2657 448h10V466h-10zM2669 466h10V512h-10zM2715 418h10V425h-10zM2761 369h10V400h-10zM2773 399h10V410h-10zM2796 408h10V451h-10zM2819 407h10V411h-10zM2865 350h10V393h-10zM2911 324h10V333h-10zM2946 282h10V286h-10zM2957 286h10V319h-10zM2980 295h10V338h-10zM2992 337h10V351h-10zM3015 333h10V352h-10z" fill="#ef5350"/><path d="M2027.5 316.2L3066 416.7" stroke="#131722" stroke-width="4.5" stroke-linecap="round"/><path d="M25 351.9H3322" stroke="#ef5350" stroke-width="2" stroke-dasharray="2 4"/></g><g clip-path="url(#cr)"><path d="M167.17 1362.1L169.96 1356.25L181.49 1346.25L193.03 1336.25L204.57 1330L216.11 1328.75L227.65 1327L239.18 1329.25L250.72 1321.75L262.26 1315.75L273.8 1313.75L285.34 1311.25L296.87 1307.5L308.41 1309.5L319.95 1323L331.49 1324.5L337.6 1362.1L337.6 1362.1L167.17 1362.1z" fill="url(#gg)"/><path d="M484.43 1362.1L493.02 1350L504.56 1338.75L516.1 1327.5L527.63 1322L539.17 1341.25L550.71 1360L562.25 1349.25L570.16 1362.1L570.16 1362.1L484.43 1362.1z" fill="url(#gg)"/><path d="M586.62 1362.1L596.86 1353L608.4 1352.5L619.94 1343L631.48 1350L643.01 1355.75L647.26 1362.1L647.26 1362.1L586.62 1362.1z" fill="url(#gg)"/><path d="M1815.36 1362.1L1819.89 1357L1831.43 1340.25L1842.97 1336.75L1854.5 1348L1866.04 1343L1877.58 1335.25L1889.12 1346.25L1900.66 1327.75L1912.19 1346.5L1922.48 1362.1L1922.48 1362.1L1815.36 1362.1z" fill="url(#gg)"/><path d="M1931.7 1362.1L1935.27 1361.25L1937.72 1362.1L1937.72 1362.1L1931.7 1362.1z" fill="url(#gg)"/><path d="M1971.32 1362.1L1981.42 1355.75L1992.96 1352.75L2001.1 1362.1L2001.1 1362.1L1971.32 1362.1z" fill="url(#gg)"/><path d="M2007.45 1362.1L2016.04 1350.75L2027.57 1345.75L2039.11 1331L2050.65 1348.5L2062.19 1343.5L2073.05 1362.1L2073.05 1362.1L2007.45 1362.1z" fill="url(#gg)"/><path d="M2449.74 1362.1L2454.48 1360.25L2456.61 1362.1L2456.61 1362.1L2449.74 1362.1z" fill="url(#gg)"/><text x="46.8" y="1348.5" font-size="28" fill="#4c4c50" stroke="#4c4c50" stroke-width="0.45" textLength="36.3" lengthAdjust="spacingAndGlyphs" >RSI</text><text x="97.3" y="1348.5" font-size="28" fill="#4c4c50" stroke="#4c4c50" stroke-width="0.45" textLength="47.5" lengthAdjust="spacingAndGlyphs" >(14,</text><text x="157.4" y="1348.5" font-size="28" fill="#4c4c50" stroke="#4c4c50" stroke-width="0.45" textLength="76.7" lengthAdjust="spacingAndGlyphs" >close)</text><text x="255.5" y="1348.5" font-size="28" fill="#7e57c2" stroke="#7e57c2" stroke-width="0.45" textLength="71.8" lengthAdjust="spacingAndGlyphs" >49.38</text><text x="348.6" y="1348.5" font-size="28" fill="#ffeb3b" stroke="#ffeb3b" stroke-width="0.45" textLength="70.9" lengthAdjust="spacingAndGlyphs" >56.56</text><circle cx="454.4" cy="1339.1" r="8.1" fill="none" stroke="#4c4c50" stroke-width="2.3"/><path d="M444.5 1350.4L464.9 1327.5" stroke="#4c4c50" stroke-width="2.2"/><circle cx="502.0" cy="1339.1" r="8.1" fill="none" stroke="#4c4c50" stroke-width="2.3"/><path d="M492.1 1350.4L512.5 1327.5" stroke="#4c4c50" stroke-width="2.2"/><path d="M25.2 1362.1H3453M25.2 1442.9H3453" stroke="#6f7280" stroke-width="2.2" stroke-dasharray="10 12"/><path d="M25.2 1402.5H3453" stroke="#787b86" stroke-opacity="0.6" stroke-width="2.2" stroke-dasharray="10 12"/><path d="M43.04 1423.75L54.58 1426.75L66.11 1428L77.65 1432L89.19 1432L100.73 1436.25L112.27 1413.75L123.8 1391.25L135.34 1385L146.88 1389.5L158.42 1380.5L169.96 1356.25L181.49 1346.25L193.03 1336.25L204.57 1330L216.11 1328.75L227.65 1327L239.18 1329.25L250.72 1321.75L262.26 1315.75L273.8 1313.75L285.34 1311.25L296.87 1307.5L308.41 1309.5L319.95 1323L331.49 1324.5L343.03 1395.5L354.56 1388.25L366.1 1370L377.64 1377.5L389.18 1383.75L400.72 1391.25L412.25 1387L423.79 1391.25L435.33 1402.5L446.87 1399.25L458.41 1388.75L469.94 1383.75L481.48 1366.25L493.02 1350L504.56 1338.75L516.1 1327.5L527.63 1322L539.17 1341.25L550.71 1360L562.25 1349.25L573.79 1368L585.32 1363.25L596.86 1353L608.4 1352.5L619.94 1343L631.48 1350L643.01 1355.75L654.55 1373L666.09 1375.75L677.63 1388.25L689.17 1385.5L700.7 1378.75L712.24 1390.5L723.78 1406.25L735.32 1403L746.86 1420.5L758.39 1422.5L769.93 1412L781.47 1420L793.01 1420.5L804.55 1422.5L816.08 1422.5L827.62 1425.25L839.16 1419.5L850.7 1407.5L862.24 1395L873.77 1406.75L885.31 1411.5L896.85 1411.75L908.39 1416.25L919.93 1422L931.46 1428.25L943 1430.75L954.54 1433.25L966.08 1435.5L977.62 1439L989.15 1436.25L1000.69 1431.75L1012.23 1434.5L1023.77 1431.75L1035.31 1429.5L1046.84 1427.5L1058.38 1425.75L1069.92 1427L1081.46 1422.5L1093 1428.75L1104.53 1432.5L1116.07 1429.5L1127.61 1426.5L1139.15 1430L1150.69 1427.75L1162.22 1428.25L1173.76 1426.75L1185.3 1429.5L1196.84 1430.75L1208.38 1424.5L1219.91 1424.5L1231.45 1443.25L1242.99 1443.75L1254.53 1440.25L1266.07 1440.5L1277.6 1440.75L1289.14 1442L1300.68 1443.5L1312.22 1445L1323.76 1433.75L1335.29 1414.25L1346.83 1411.75L1358.37 1407.75L1369.91 1412.5L1381.45 1416.25L1392.98 1408.75L1404.52 1411.75L1416.06 1416.25L1427.6 1417.75L1439.14 1413L1450.67 1415.25L1462.21 1416L1473.75 1417L1485.29 1401.5L1496.83 1410.75L1508.36 1407.75L1519.9 1410.25L1531.44 1412L1542.98 1416.5L1554.52 1412.5L1566.05 1408.5L1577.59 1425.75L1589.13 1426L1600.67 1419.5L1612.21 1411.25L1623.74 1404.25L1635.28 1386.5L1646.82 1395.25L1658.36 1397.25L1669.9 1400.25L1681.43 1397.25L1692.97 1405.25L1704.51 1408.5L1716.05 1413L1727.59 1417L1739.12 1414.75L1750.66 1412.25L1762.2 1394.5L1773.74 1397.5L1785.28 1401.5L1796.81 1379.75L1808.35 1370L1819.89 1357L1831.43 1340.25L1842.97 1336.75L1854.5 1348L1866.04 1343L1877.58 1335.25L1889.12 1346.25L1900.66 1327.75L1912.19 1346.5L1923.73 1364L1935.27 1361.25L1946.81 1365.25L1958.35 1362.25L1969.88 1363L1981.42 1355.75L1992.96 1352.75L2004.5 1366L2016.04 1350.75L2027.57 1345.75L2039.11 1331L2050.65 1348.5L2062.19 1343.5L2073.73 1363.25L2085.26 1381.75L2096.8 1383.5L2108.34 1390.25L2119.88 1386.5L2131.42 1388.25L2142.95 1376L2154.49 1380.5L2166.03 1380.5L2177.57 1381.75L2189.11 1390L2200.64 1405L2212.18 1394.5L2223.72 1403.75L2235.26 1394.5L2246.8 1377.75L2258.33 1377.75L2269.87 1404L2281.41 1402.25L2292.95 1401.75L2304.49 1394L2316.02 1409.25L2327.56 1408.25L2339.1 1407.75L2350.64 1400L2362.18 1393L2373.71 1400L2385.25 1399L2396.79 1389.5L2408.33 1384.25L2419.87 1393.25L2431.4 1373.25L2442.94 1364.75L2454.48 1360.25L2466.02 1370.25L2477.56 1370.25L2489.09 1378.5L2500.63 1401.5L2512.17 1397.75L2523.71 1387.75L2535.25 1399.5L2546.78 1378.25L2558.32 1384L2569.86 1398.25L2581.4 1399.5L2592.94 1404.25L2604.47 1411.5L2616.01 1407L2627.55 1424L2639.09 1424L2650.63 1420.75L2662.16 1423.5L2673.7 1429.5L2685.24 1418.25L2696.78 1413.75L2708.32 1409.25L2719.85 1411L2731.39 1397.75L2742.93 1397.75L2754.47 1397L2766.01 1405.25L2777.54 1407.75L2789.08 1407.75L2800.62 1418L2812.16 1406L2823.7 1406.75L2835.23 1401.25L2846.77 1391.25L2858.31 1387.75L2869.85 1402L2881.39 1392.75L2892.92 1389L2904.46 1382.75L2916 1385.75L2927.54 1383.5L2939.08 1370L2950.61 1372.25L2962.15 1387.75L2973.69 1381.5L2985.23 1398.25L2996.77 1402.75L3008.3 1397.25L3019.84 1403.75" fill="none" stroke="#7e57c2" stroke-opacity="1" stroke-width="2.5" stroke-linejoin="round" stroke-linecap="round" /><path d="M193.03 1398.75L204.57 1392.5L216.11 1386.25L227.65 1377.5L239.18 1370.5L250.72 1361.75L262.26 1352.5L273.8 1345.5L285.34 1338.75L296.87 1333L308.41 1328L319.95 1324.5L331.49 1322.5L343.03 1327.5L354.56 1331.25L366.1 1335L377.64 1339.25L389.18 1343L400.72 1346.25L412.25 1350L423.79 1355.5L435.33 1361.75L446.87 1368L458.41 1373.75L469.94 1378.25L481.48 1381.75L493.02 1384.25L504.56 1381.25L516.1 1376.75L527.63 1373L539.17 1370.75L550.71 1368.25L562.25 1365.5L573.79 1364.25L585.32 1362.5L596.86 1357L608.4 1353.25L619.94 1350.75L631.48 1349.25L643.01 1348.75L654.55 1350L666.09 1352.5L677.63 1357L689.17 1361.25L700.7 1364.25L712.24 1367L723.78 1370.5L735.32 1373.75L746.86 1377L758.39 1382L769.93 1386.25L781.47 1391.25L793.01 1396.75L804.55 1400.75L816.08 1404.5L827.62 1408.25L839.16 1410.75L850.7 1412.5L862.24 1413.25L873.77 1414.25L885.31 1415L896.85 1415.5L908.39 1415L919.93 1415.5L931.46 1416.25L943 1417L954.54 1418L966.08 1418.75L977.62 1419.5L989.15 1420.5L1000.69 1422L1012.23 1424.25L1023.77 1426.75L1035.31 1428.25L1046.84 1429.25L1058.38 1430.25L1069.92 1430.75L1081.46 1430.75L1093 1430.75L1104.53 1430.75L1116.07 1430.5L1127.61 1430L1139.15 1429.25L1150.69 1428.75L1162.22 1428.5L1173.76 1428.25L1185.3 1428.25L1196.84 1428L1208.38 1428L1219.91 1428L1231.45 1428.75L1242.99 1430.5L1254.53 1431.25L1266.07 1432L1277.6 1432.75L1289.14 1434L1300.68 1435.25L1312.22 1436.25L1323.76 1436L1335.29 1435.25L1346.83 1434.25L1358.37 1432.5L1369.91 1431.75L1381.45 1431.25L1392.98 1428.75L1404.52 1426.5L1416.06 1424.5L1427.6 1422.75L1439.14 1420.75L1450.67 1418.5L1462.21 1417L1473.75 1415.5L1485.29 1412.75L1496.83 1412.5L1508.36 1412.25L1519.9 1412.25L1531.44 1412.25L1542.98 1412.5L1554.52 1412.5L1566.05 1412.5L1577.59 1413L1589.13 1413.75L1600.67 1414L1612.21 1413.5L1623.74 1413L1635.28 1411.25L1646.82 1410.75L1658.36 1409.75L1669.9 1409L1681.43 1408L1692.97 1407.25L1704.51 1406.75L1716.05 1406.75L1727.59 1407.25L1739.12 1406.75L1750.66 1405.75L1762.2 1404L1773.74 1403L1785.28 1403L1796.81 1402.5L1808.35 1400.25L1819.89 1397.5L1831.43 1393.75L1842.97 1389L1854.5 1385L1866.04 1380L1877.58 1375L1889.12 1370.5L1900.66 1364.5L1912.19 1359.5L1923.73 1356.25L1935.27 1353.75L1946.81 1351.5L1958.35 1350L1969.88 1349.5L1981.42 1349.75L1992.96 1350.75L2004.5 1352.5L2016.04 1353L2027.57 1352.75L2039.11 1352.5L2050.65 1353L2062.19 1354L2073.73 1355.5L2085.26 1356.75L2096.8 1358.5L2108.34 1360.25L2119.88 1362L2131.42 1363.75L2142.95 1365.5L2154.49 1367L2166.03 1368.25L2177.57 1370L2189.11 1372.5L2200.64 1378L2212.18 1381.25L2223.72 1385.5L2235.26 1387.75L2246.8 1388.25L2258.33 1387.75L2269.87 1388.75L2281.41 1390L2292.95 1390.75L2304.49 1392L2316.02 1394L2327.56 1395.75L2339.1 1397.5L2350.64 1398.5L2362.18 1398L2373.71 1398L2385.25 1397.75L2396.79 1397.75L2408.33 1398.25L2419.87 1399L2431.4 1396.75L2442.94 1394L2454.48 1391.25L2466.02 1389.25L2477.56 1386.75L2489.09 1385L2500.63 1384.25L2512.17 1384L2523.71 1383.75L2535.25 1383.5L2546.78 1382L2558.32 1382L2569.86 1382.75L2581.4 1383.25L2592.94 1385.25L2604.47 1388.25L2616.01 1391.75L2627.55 1395.25L2639.09 1398.75L2650.63 1401.75L2662.16 1403.75L2673.7 1406.25L2685.24 1408.25L2696.78 1409.5L2708.32 1411.75L2719.85 1413.5L2731.39 1413.75L2742.93 1413.5L2754.47 1413L2766.01 1412.5L2777.54 1412.5L2789.08 1411.5L2800.62 1411.25L2812.16 1410L2823.7 1408.75L2835.23 1406.75L2846.77 1405.25L2858.31 1403.5L2869.85 1402.75L2881.39 1401.5L2892.92 1400.75L2904.46 1399.75L2916 1399L2927.54 1397.5L2939.08 1395L2950.61 1392.75L2962.15 1390.75L2973.69 1388.75L2985.23 1387.75L2996.77 1387.75L3008.3 1388.25L3019.84 1389.5" fill="none" stroke="#ffeb3b" stroke-opacity="1" stroke-width="2.5" stroke-linejoin="round" stroke-linecap="round" /></g><path d="M3453.7 67V1525" stroke="#444446" stroke-width="1.6"/><path d="M25 1456.1H3602.5" stroke="#3f3f42" stroke-width="2"/><text x="25.7" y="48.3" font-size="28" fill="#131722" stroke="#131722" stroke-width="0.45" textLength="193.8" lengthAdjust="spacingAndGlyphs" >Jake_Simmons</text><text x="229.8" y="48.3" font-size="28" fill="#131722" stroke="#131722" stroke-width="0.45" textLength="103" lengthAdjust="spacingAndGlyphs" >created</text><text x="343.8" y="48.3" font-size="28" fill="#131722" stroke="#131722" stroke-width="0.45" textLength="56.5" lengthAdjust="spacingAndGlyphs" >with</text><text x="412.3" y="48.3" font-size="28" fill="#131722" stroke="#131722" stroke-width="0.45" textLength="234.3" lengthAdjust="spacingAndGlyphs" >TradingView.com,</text><text x="658.2" y="48.3" font-size="28" fill="#131722" stroke="#131722" stroke-width="0.45" textLength="45.2" lengthAdjust="spacingAndGlyphs" >Oct</text><text x="715" y="48.3" font-size="28" fill="#131722" stroke="#131722" stroke-width="0.45" textLength="39.6" lengthAdjust="spacingAndGlyphs" >31,</text><text x="766.3" y="48.3" font-size="28" fill="#131722" stroke="#131722" stroke-width="0.45" textLength="62" lengthAdjust="spacingAndGlyphs" >2025</text><text x="838.5" y="48.3" font-size="28" fill="#131722" stroke="#131722" stroke-width="0.45" textLength="73.6" lengthAdjust="spacingAndGlyphs" >05:00</text><text x="924.7" y="48.3" font-size="28" fill="#131722" stroke="#131722" stroke-width="0.45" textLength="79.2" lengthAdjust="spacingAndGlyphs" >UTC-4</text><text x="45.75" y="116.3" font-size="28" fill="#4c4c50" stroke="#4c4c50" stroke-width="0.45" textLength="49.25" lengthAdjust="spacingAndGlyphs" >SOL</text><text x="107" y="116.3" font-size="28" fill="#4c4c50" stroke="#4c4c50" stroke-width="0.45" textLength="8.5" lengthAdjust="spacingAndGlyphs" >/</text><text x="129.5" y="116.3" font-size="28" fill="#4c4c50" stroke="#4c4c50" stroke-width="0.45" textLength="119.25" lengthAdjust="spacingAndGlyphs" >TetherUS</text><text x="263.25" y="116.3" font-size="28" fill="#4c4c50" stroke="#4c4c50" stroke-width="0.45" font-weight="bold" text-anchor="middle" >·</text><text x="280" y="116.3" font-size="28" fill="#4c4c50" stroke="#4c4c50" stroke-width="0.45" textLength="38.75" lengthAdjust="spacingAndGlyphs" >1W</text><text x="334.62" y="116.3" font-size="28" fill="#4c4c50" stroke="#4c4c50" stroke-width="0.45" font-weight="bold" text-anchor="middle" >·</text><text x="350.75" y="116.3" font-size="28" fill="#4c4c50" stroke="#4c4c50" stroke-width="0.45" textLength="103" lengthAdjust="spacingAndGlyphs" >Binance</text><text x="472.8" y="116.3" font-size="28" fill="#4c4c50" stroke="#4c4c50" stroke-width="0.45" textLength="20" lengthAdjust="spacingAndGlyphs" >O</text><text x="493.8" y="116.3" font-size="28" fill="#ef5350" stroke="#ef5350" stroke-width="0.45" textLength="88.5" lengthAdjust="spacingAndGlyphs" >200.03</text><text x="602.3" y="116.3" font-size="28" fill="#4c4c50" stroke="#4c4c50" stroke-width="0.45" textLength="19.6" lengthAdjust="spacingAndGlyphs" >H</text><text x="622.8" y="116.3" font-size="28" fill="#ef5350" stroke="#ef5350" stroke-width="0.45" textLength="88.5" lengthAdjust="spacingAndGlyphs" >205.33</text><text x="731.4" y="116.3" font-size="28" fill="#4c4c50" stroke="#4c4c50" stroke-width="0.45" textLength="13.5" lengthAdjust="spacingAndGlyphs" >L</text><text x="746.7" y="116.3" font-size="28" fill="#ef5350" stroke="#ef5350" stroke-width="0.45" textLength="87.1" lengthAdjust="spacingAndGlyphs" >178.65</text><text x="854.4" y="116.3" font-size="28" fill="#4c4c50" stroke="#4c4c50" stroke-width="0.45" textLength="15.6" lengthAdjust="spacingAndGlyphs" >C</text><text x="873.4" y="116.3" font-size="28" fill="#ef5350" stroke="#ef5350" stroke-width="0.45" textLength="87.1" lengthAdjust="spacingAndGlyphs" >186.49</text><text x="981.4" y="116.3" font-size="28" fill="#ef5350" stroke="#ef5350" stroke-width="0.45" textLength="88.2" lengthAdjust="spacingAndGlyphs" >−13.54</text><text x="1080.7" y="116.3" font-size="28" fill="#ef5350" stroke="#ef5350" stroke-width="0.45" textLength="111.8" lengthAdjust="spacingAndGlyphs" >(−6.77%)</text><text x="45.75" y="158.3" font-size="28" fill="#4c4c50" stroke="#4c4c50" stroke-width="0.45" textLength="38" lengthAdjust="spacingAndGlyphs" >Vol</text><text x="100.25" y="158.3" font-size="28" fill="#4c4c50" stroke="#4c4c50" stroke-width="0.45" font-weight="bold" text-anchor="middle" >·</text><text x="115.5" y="158.3" font-size="28" fill="#4c4c50" stroke="#4c4c50" stroke-width="0.45" textLength="48.75" lengthAdjust="spacingAndGlyphs" >SOL</text><text x="185" y="158.3" font-size="28" fill="#ef5350" stroke="#ef5350" stroke-width="0.45" textLength="70.5" lengthAdjust="spacingAndGlyphs" >18.73</text><text x="263.75" y="158.3" font-size="28" fill="#ef5350" stroke="#ef5350" stroke-width="0.45" textLength="21.25" lengthAdjust="spacingAndGlyphs" >M</text><text x="45.75" y="200" font-size="28" fill="#4c4c50" stroke="#4c4c50" stroke-width="0.45" textLength="53.5" lengthAdjust="spacingAndGlyphs" >EMA</text><text x="110" y="200" font-size="28" fill="#4c4c50" stroke="#4c4c50" stroke-width="0.45" textLength="203.75" lengthAdjust="spacingAndGlyphs" >20/50/100/200</text><text x="335" y="200" font-size="28" fill="#ff0000" stroke="#ff0000" stroke-width="0.45" textLength="87.6" lengthAdjust="spacingAndGlyphs" >193.15</text><text x="443" y="200" font-size="28" fill="#ff8000" stroke="#ff8000" stroke-width="0.45" textLength="87.6" lengthAdjust="spacingAndGlyphs" >178.37</text><text x="552" y="200" font-size="28" fill="#00ffff" stroke="#00ffff" stroke-width="0.45" textLength="87.6" lengthAdjust="spacingAndGlyphs" >155.14</text><text x="660" y="200" font-size="28" fill="#0000ff" stroke="#0000ff" stroke-width="0.45" textLength="87.6" lengthAdjust="spacingAndGlyphs" >120.46</text><text x="3074.6" y="137.26" font-size="28" fill="#2962ff" stroke="#2962ff" stroke-width="0.45" textLength="194" lengthAdjust="spacingAndGlyphs" >1.618 (416.36)</text><text x="3074.6" y="174.22" font-size="28" fill="#f23645" stroke="#f23645" stroke-width="0.45" textLength="194" lengthAdjust="spacingAndGlyphs" >1.414 (364.88)</text><text x="3074.6" y="203.17" font-size="28" fill="#ff9800" stroke="#ff9800" stroke-width="0.45" textLength="194" lengthAdjust="spacingAndGlyphs" >1.272 (329.04)</text><text x="3074.6" y="268.7" font-size="28" fill="#787b86" stroke="#787b86" stroke-width="0.45" textLength="135.6" lengthAdjust="spacingAndGlyphs" >1 (260.39)</text><text x="3074.6" y="333.8" font-size="28" fill="#00bcd4" stroke="#00bcd4" stroke-width="0.45" textLength="194" lengthAdjust="spacingAndGlyphs" >0.786 (206.38)</text><text x="3074.6" y="398.2" font-size="28" fill="#089981" stroke="#089981" stroke-width="0.45" textLength="194" lengthAdjust="spacingAndGlyphs" >0.618 (163.98)</text><text x="3074.6" y="454.32" font-size="28" fill="#4caf50" stroke="#4caf50" stroke-width="0.45" textLength="162.1" lengthAdjust="spacingAndGlyphs" >0.5 (134.20)</text><text x="3074.6" y="524.61" font-size="28" fill="#ff9800" stroke="#ff9800" stroke-width="0.45" textLength="194" lengthAdjust="spacingAndGlyphs" >0.382 (104.41)</text><text x="3074.6" y="646.47" font-size="28" fill="#f23645" stroke="#f23645" stroke-width="0.45" textLength="178.3" lengthAdjust="spacingAndGlyphs" >0.236 (67.57)</text><text x="3074.6" y="1243.97" font-size="28" fill="#787b86" stroke="#787b86" stroke-width="0.45" textLength="103.8" lengthAdjust="spacingAndGlyphs" >0 (8.00)</text><text x="3476" y="177.69" font-size="25.5" fill="#48484b" stroke="#48484b" stroke-width="0.45" textLength="80.2" lengthAdjust="spacingAndGlyphs" >360.00</text><text x="3476" y="268.82" font-size="25.5" fill="#48484b" stroke="#48484b" stroke-width="0.45" textLength="80.2" lengthAdjust="spacingAndGlyphs" >260.00</text><text x="3476" y="342.29" font-size="25.5" fill="#48484b" stroke="#48484b" stroke-width="0.45" textLength="80.2" lengthAdjust="spacingAndGlyphs" >200.00</text><text x="3476" y="442.17" font-size="25.5" fill="#48484b" stroke="#48484b" stroke-width="0.45" textLength="80.2" lengthAdjust="spacingAndGlyphs" >140.00</text><text x="3476" y="536.39" font-size="25.5" fill="#48484b" stroke="#48484b" stroke-width="0.45" textLength="80.2" lengthAdjust="spacingAndGlyphs" >100.00</text><text x="3476" y="636.27" font-size="25.5" fill="#48484b" stroke="#48484b" stroke-width="0.45" textLength="65.3" lengthAdjust="spacingAndGlyphs" >70.00</text><text x="3476" y="708.94" font-size="25.5" fill="#48484b" stroke="#48484b" stroke-width="0.45" textLength="65.3" lengthAdjust="spacingAndGlyphs" >54.00</text><text x="3476" y="779.32" font-size="25.5" fill="#48484b" stroke="#48484b" stroke-width="0.45" textLength="65.3" lengthAdjust="spacingAndGlyphs" >42.00</text><text x="3476" y="855.47" font-size="25.5" fill="#48484b" stroke="#48484b" stroke-width="0.45" textLength="65.3" lengthAdjust="spacingAndGlyphs" >32.00</text><text x="3476" y="936.03" font-size="25.5" fill="#48484b" stroke="#48484b" stroke-width="0.45" textLength="65.3" lengthAdjust="spacingAndGlyphs" >24.00</text><text x="3476" y="1016.59" font-size="25.5" fill="#48484b" stroke="#48484b" stroke-width="0.45" textLength="65.3" lengthAdjust="spacingAndGlyphs" >18.00</text><text x="3476" y="1086.96" font-size="25.5" fill="#48484b" stroke="#48484b" stroke-width="0.45" textLength="65.3" lengthAdjust="spacingAndGlyphs" >14.00</text><text x="3476" y="1167.52" font-size="25.5" fill="#48484b" stroke="#48484b" stroke-width="0.45" textLength="65.3" lengthAdjust="spacingAndGlyphs" >10.50</text><text x="3476" y="1243.67" font-size="25.5" fill="#48484b" stroke="#48484b" stroke-width="0.45" textLength="51.5" lengthAdjust="spacingAndGlyphs" >8.00</text><text x="3476" y="1351.6" font-size="25.5" fill="#48484b" stroke="#48484b" stroke-width="0.45" textLength="65.8" lengthAdjust="spacingAndGlyphs" >80.00</text><text x="3476" y="1432.4" font-size="25.5" fill="#48484b" stroke="#48484b" stroke-width="0.45" textLength="65.8" lengthAdjust="spacingAndGlyphs" >40.00</text><rect x="3463" y="76.6" width="130" height="64.6" rx="9.6" fill="#fff" stroke="#eff0f3" stroke-width="1.8"/><text x="3486.7" y="117.6" font-size="29" fill="#131722" stroke="#131722" stroke-width="0.45" textLength="69" lengthAdjust="spacingAndGlyphs" >USDT</text><path d="M3325.3 336.3a4 4 0 0 1 4-4H3454V372H3329.3a4 4 0 0 1-4-4z" fill="#ef5350"/><path d="M3454 332.3H3563.7a4 4 0 0 1 4 4V399.9a4 4 0 0 1-4 4H3454z" fill="#ef5350"/><text x="3334.9" y="362" font-size="26" fill="#fff" stroke="#fff" stroke-width="0.45" textLength="107.7" lengthAdjust="spacingAndGlyphs" >SOLUSDT</text><text x="3476" y="362" font-size="26" fill="#fff" stroke="#fff" stroke-width="0.45" textLength="80.2" lengthAdjust="spacingAndGlyphs" >186.49</text><text x="3476" y="394" font-size="26" fill="#fff" stroke="#fff" stroke-width="0.45" textLength="80.2" lengthAdjust="spacingAndGlyphs" fill-opacity="0.75">2d 15h</text><path d="M3453.7 332V403" stroke="#444446" stroke-width="1.6"/><text x="93.9" y="1500" font-size="26" fill="#48484b" stroke="#48484b" stroke-width="0.45" textLength="60" lengthAdjust="spacingAndGlyphs" font-weight="bold" >2021</text><text x="406.9" y="1500" font-size="26" fill="#48484b" stroke="#48484b" stroke-width="0.45" textLength="34" lengthAdjust="spacingAndGlyphs" >Jul</text><text x="693.9" y="1500" font-size="26" fill="#48484b" stroke="#48484b" stroke-width="0.45" textLength="60" lengthAdjust="spacingAndGlyphs" font-weight="bold" >2022</text><text x="1006.9" y="1500" font-size="26" fill="#48484b" stroke="#48484b" stroke-width="0.45" textLength="34" lengthAdjust="spacingAndGlyphs" >Jul</text><text x="1293.9" y="1500" font-size="26" fill="#48484b" stroke="#48484b" stroke-width="0.45" textLength="60" lengthAdjust="spacingAndGlyphs" font-weight="bold" >2023</text><text x="1606.9" y="1500" font-size="26" fill="#48484b" stroke="#48484b" stroke-width="0.45" textLength="34" lengthAdjust="spacingAndGlyphs" >Jul</text><text x="1893.9" y="1500" font-size="26" fill="#48484b" stroke="#48484b" stroke-width="0.45" textLength="60" lengthAdjust="spacingAndGlyphs" font-weight="bold" >2024</text><text x="2206.9" y="1500" font-size="26" fill="#48484b" stroke="#48484b" stroke-width="0.45" textLength="34" lengthAdjust="spacingAndGlyphs" >Jul</text><text x="2505.2" y="1500" font-size="26" fill="#48484b" stroke="#48484b" stroke-width="0.45" textLength="60" lengthAdjust="spacingAndGlyphs" font-weight="bold" >2025</text><text x="2818" y="1500" font-size="26" fill="#48484b" stroke="#48484b" stroke-width="0.45" textLength="34" lengthAdjust="spacingAndGlyphs" >Jul</text><text x="3104.8" y="1500" font-size="26" fill="#48484b" stroke="#48484b" stroke-width="0.45" textLength="60" lengthAdjust="spacingAndGlyphs" font-weight="bold" >2026</text><text x="3417.7" y="1500" font-size="26" fill="#48484b" stroke="#48484b" stroke-width="0.45" textLength="34" lengthAdjust="spacingAndGlyphs" >Jul</text><g transform="translate(20,1565) scale(0.16305)" fill="#0f0f0f" stroke="none"><path d="M62 92H245V322H152V185H62z"/><circle cx="322" cy="137" r="47"/><path d="M410 92H520L432 322H322z"/><path d="M628 92H797V137H737V322H690V137H628z"/><g fill="none" stroke="#0f0f0f" stroke-width="46"><path d="M823 322V157"/><path d="M823 322V236a58 58 0 0 1 58-58h24"/><circle cx="990" cy="239" r="62"/><path d="M1052 157V322"/><circle cx="1185" cy="239" r="62"/><path d="M1248 92V322"/><path d="M1328.500 157V322"/><path d="M1408 157V322"/><path d="M1408 322V228a53 53 0 0 1 106 0V322"/><circle cx="1650" cy="239" r="62"/><path d="M1712 157V312a62 62 0 0 1-62 62c-32 0-52-13-66-34"/><path d="M2003.500 157V322"/><path d="M2202 239A62 62 0 1 0 2188 288" /><path d="M2085 247H2215" stroke-width="36"/></g><circle cx="1328" cy="112" r="29"/><circle cx="2003" cy="112" r="29"/><path d="M1735 92H1788L1850 262L1912 92H1965L1875 322H1825z"/><path d="M2225 157H2272L2310 268L2335 190H2375L2400 268L2438 157H2485L2425 322H2380L2355 250L2330 322H2285z"/></g></svg></body></html>
